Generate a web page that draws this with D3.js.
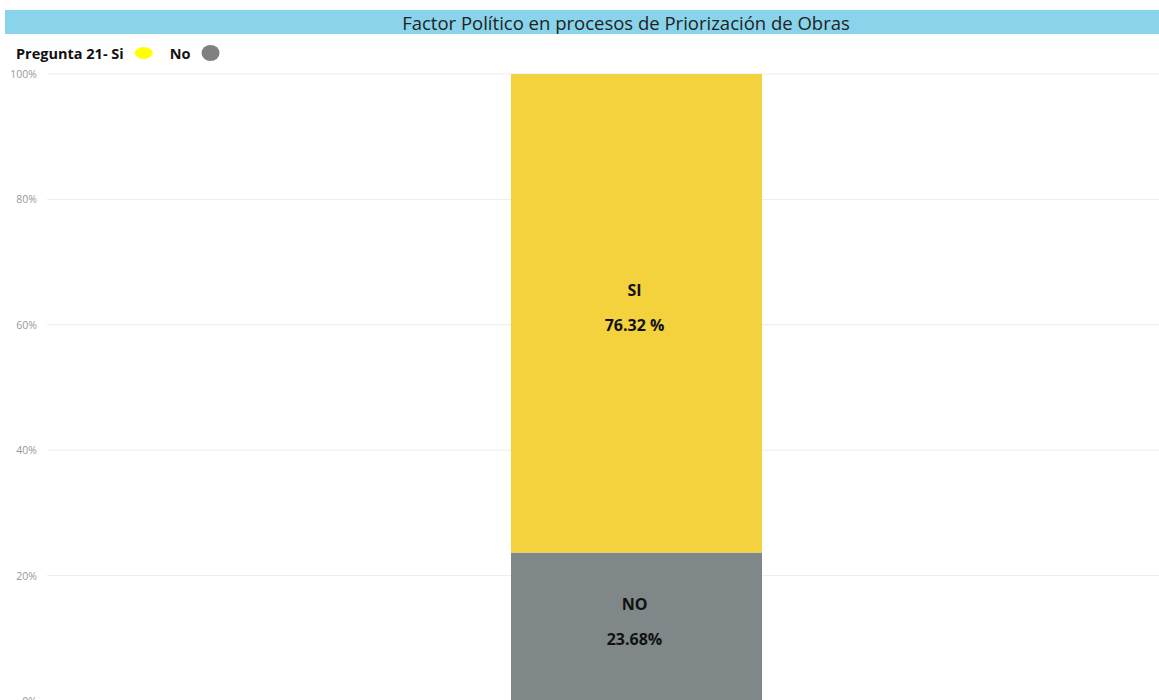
<!DOCTYPE html>
<html>
<head>
<meta charset="utf-8">
<script src="https://cdn.jsdelivr.net/npm/d3@7"></script>
<style>
  body { margin: 0; background: #fff; }
  svg { display: block; font-family: "Open Sans", "Noto Sans", sans-serif; }
</style>
</head>
<body>
<svg id="chart" width="1159" height="700"></svg>
<script>
const title = "Factor Político en procesos de Priorización de Obras";
const segments = ["NO", "SI"];
const segmentValues = [23.68, 76.32];
const segmentLabels = ["23.68%", "76.32 %"];
const segmentColors = ["#7f8788", "#f3d23e"];
const yTicks = [0, 20, 40, 60, 80, 100];
const legendItems = [
  { label: "Pregunta 21- Si", color: "#ffff00" },
  { label: "No", color: "#808080" },
];

const svg = d3.select("#chart");
const W = 1159;

// title bar
svg.append("rect")
  .attr("x", 5).attr("y", 10)
  .attr("width", W - 5).attr("height", 24)
  .attr("fill", "#89d4ea");
svg.append("text")
  .attr("x", 626).attr("y", 22)
  .attr("text-anchor", "middle")
  .attr("dominant-baseline", "central")
  .attr("fill", "#222")
  .style("font-size", "18.5px")
  .text(title);

// legend
const leg = svg.append("g").attr("transform", "translate(16,53)");
let lx = 0;
legendItems.forEach((d, i) => {
  const t = leg.append("text")
    .attr("x", lx).attr("y", 0)
    .attr("dominant-baseline", "central")
    .attr("fill", "#111")
    .style("font-size", "14.5px")
    .style("font-weight", "bold")
    .text(d.label);
  const w = t.node().getComputedTextLength();
  leg.append("ellipse")
    .attr("cx", lx + w + 20).attr("cy", 0)
    .attr("rx", 9).attr("ry", i === 0 ? 6 : 8)
    .attr("fill", d.color);
  lx += w + 46;
});

// scale
const y = d3.scaleLinear().domain([0, 100]).range([701, 74]);

// grid + tick labels
const axis = svg.append("g");
axis.selectAll("line").data(yTicks).join("line")
  .attr("x1", 47).attr("x2", W)
  .attr("y1", (d) => y(d)).attr("y2", (d) => y(d))
  .attr("stroke", "#ececec").attr("stroke-width", 1);
axis.selectAll("text").data(yTicks).join("text")
  .attr("x", 37).attr("y", (d) => y(d))
  .attr("text-anchor", "end")
  .attr("dominant-baseline", "central")
  .attr("fill", "#999")
  .style("font-size", "10.5px")
  .text((d) => d + "%");

// stacked segments
const stacked = [];
let acc = 0;
segments.forEach((s, i) => {
  stacked.push({ key: s, y0: acc, y1: acc + segmentValues[i], label: segmentLabels[i], color: segmentColors[i] });
  acc += segmentValues[i];
});

const bx = 511, bw = 251;
const bars = svg.append("g");
bars.selectAll("rect").data(stacked).join("rect")
  .attr("x", bx).attr("width", bw)
  .attr("y", (d) => y(d.y1))
  .attr("height", (d) => y(d.y0) - y(d.y1))
  .attr("fill", (d) => d.color);

const lab = bars.selectAll("g.lab").data(stacked).join("g").attr("class", "lab");
lab.append("text")
  .attr("x", bx + bw / 2 - 2)
  .attr("y", (d) => (y(d.y0) + y(d.y1)) / 2 - 23)
  .attr("text-anchor", "middle")
  .attr("dominant-baseline", "central")
  .attr("fill", "#111")
  .style("font-size", "16px").style("font-weight", "bold")
  .text((d) => d.key);
lab.append("text")
  .attr("x", bx + bw / 2 - 2)
  .attr("y", (d) => (y(d.y0) + y(d.y1)) / 2 + 12)
  .attr("text-anchor", "middle")
  .attr("dominant-baseline", "central")
  .attr("fill", "#111")
  .style("font-size", "16px").style("font-weight", "bold")
  .text((d) => d.label);
</script>
</body>
</html>
